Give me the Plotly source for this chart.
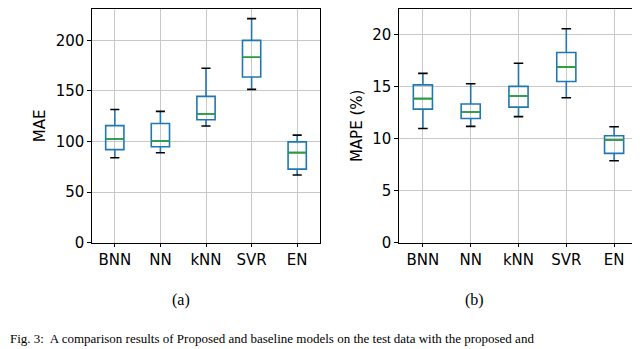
import plotly.graph_objects as go
from plotly.subplots import make_subplots

# Modelos comparados
models = ["BNN", "NN", "kNN", "SVR", "EN"]
positions = [1, 2, 3, 4, 5]

# MAE (estatísticas das caixas)
mae_low = [84, 89, 115.4, 151.6, 67]
mae_q1 = [92, 94.9, 121.5, 163.8, 72.8]
mae_med = [102.6, 100.6, 127.2, 183.3, 89.1]
mae_q3 = [115.7, 117.9, 144.6, 200, 99.7]
mae_high = [131.7, 129.8, 172.4, 221.5, 106.4]

# MAPE (%)
mape_low = [11.0, 11.2, 12.14, 13.96, 7.89]
mape_q1 = [12.86, 11.96, 13.05, 15.52, 8.6]
mape_med = [13.87, 12.58, 14.12, 16.9, 9.89]
mape_q3 = [15.2, 13.36, 15.05, 18.31, 10.3]
mape_high = [16.3, 15.3, 17.28, 20.6, 11.17]

BLUE = "#1f77b4"
GREEN = "#2ca02c"
BOX_W = 0.4
CAP_W = 0.2


def seg_lines(xs, ys, half):
    """Monta segmentos horizontais separados por None"""
    lx, ly = [], []
    for x, y in zip(xs, ys):
        lx += [x - half, x + half, None]
        ly += [y, y, None]
    return lx, ly


fig = make_subplots(rows=1, cols=2)

panels = [
    (1, mae_low, mae_q1, mae_med, mae_q3, mae_high),
    (2, mape_low, mape_q1, mape_med, mape_q3, mape_high),
]
for col, low, q1, med, q3, high in panels:
    fig.add_trace(go.Box(
        x=positions, q1=q1, median=med, q3=q3,
        lowerfence=low, upperfence=high,
        width=BOX_W, whiskerwidth=0,
        line=dict(color=BLUE, width=1.6),
        fillcolor="rgba(0,0,0,0)",
        boxpoints=False, hoverinfo="skip", showlegend=False,
    ), row=1, col=col)
    # bigodes (caps) pretos
    cx, cy = seg_lines(positions + positions, low + high, CAP_W / 2)
    fig.add_trace(go.Scatter(
        x=cx, y=cy, mode="lines", line=dict(color="black", width=1.6),
        hoverinfo="skip", showlegend=False,
    ), row=1, col=col)
    # mediana verde
    mx, my = seg_lines(positions, med, BOX_W / 2)
    fig.add_trace(go.Scatter(
        x=mx, y=my, mode="lines", line=dict(color=GREEN, width=1.6),
        hoverinfo="skip", showlegend=False,
    ), row=1, col=col)

tick_font = dict(family="DejaVu Sans", size=15, color="black")
axis_common = dict(
    showline=True, mirror=True, linecolor="black", linewidth=1.2,
    ticks="outside", ticklen=3.5, tickcolor="black", tickwidth=1,
    showgrid=True, gridcolor="#c8c8c8", gridwidth=1, zeroline=False,
    tickfont=tick_font,
)

top = 1 - 1 / 349
bottom = 1 - 241 / 349

fig.update_xaxes(
    range=[0.5, 5.5], tickvals=positions, ticktext=models, **axis_common
)
fig.update_xaxes(domain=[84 / 640, 312 / 640], row=1, col=1)
fig.update_xaxes(domain=[391 / 640, 630 / 640], row=1, col=2)

fig.update_yaxes(domain=[bottom, top], **axis_common)
fig.update_yaxes(
    range=[0, 231], tickvals=[0, 50, 100, 150, 200],
    title=dict(text="MAE", standoff=6, font=tick_font),
    row=1, col=1,
)
fig.update_yaxes(
    range=[0, 22.5], tickvals=[0, 5, 10, 15, 20],
    title=dict(text="MAPE (%)", standoff=6, font=tick_font),
    row=1, col=2,
)

serif = dict(family="Liberation Serif", size=16, color="black")
fig.add_annotation(text="(a)", x=162 / 640, y=1 - 311 / 349,
                   xref="paper", yref="paper", showarrow=False, font=serif)
fig.add_annotation(text="(b)", x=478 / 640, y=1 - 311 / 349,
                   xref="paper", yref="paper", showarrow=False, font=serif)
fig.add_annotation(
    text="Fig. 3:  A comparison results of Proposed and baseline models on the test data with the proposed and",
    x=0, y=0, xref="paper", yref="paper", xanchor="left",
    yanchor="bottom", showarrow=False,
    font=dict(family="Liberation Serif", size=13, color="black"),
)

fig.update_layout(
    width=640, height=349,
    margin=dict(l=0, r=0, t=0, b=0),
    paper_bgcolor="white", plot_bgcolor="white",
    boxmode="overlay",
)

fig.write_html("out.html")
